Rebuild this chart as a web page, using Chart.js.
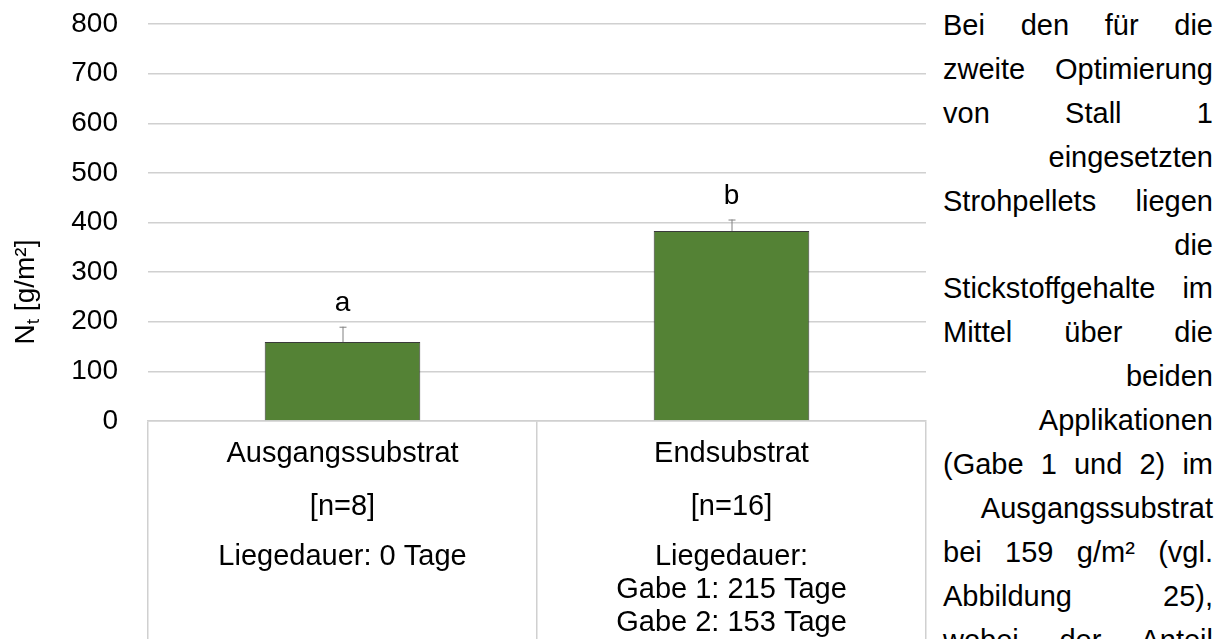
<!DOCTYPE html>
<html lang="de">
<head>
<meta charset="utf-8">
<script src="https://cdn.jsdelivr.net/npm/chart.js@4.4.0/dist/chart.umd.min.js"></script>
<style>
html, body { margin: 0; padding: 0; background: #fff; }
body { width: 1222px; height: 639px; overflow: hidden; position: relative; font-family: "Liberation Sans", Arial, sans-serif; }
#grafik { position: absolute; left: 0; top: 0; width: 935px; height: 639px; }
#text { position: absolute; left: 943px; top: 4px; width: 270px; font-size: 29px; line-height: 43.9px; color: #000; }
#text div { text-align: justify; text-align-last: justify; }
#text div.r { text-align: right; text-align-last: right; }
</style>
</head>
<body>
<div id="grafik"><canvas id="ntChart"></canvas></div>
<div id="text">
  <div>Bei den für die</div>
  <div>zweite Optimierung</div>
  <div>von Stall 1</div>
  <div class="r">eingesetzten</div>
  <div>Strohpellets liegen</div>
  <div class="r">die</div>
  <div>Stickstoffgehalte im</div>
  <div>Mittel über die</div>
  <div class="r">beiden</div>
  <div class="r">Applikationen</div>
  <div>(Gabe 1 und 2) im</div>
  <div class="r">Ausgangssubstrat</div>
  <div>bei 159 g/m² (vgl.</div>
  <div>Abbildung 25),</div>
  <div>wobei der Anteil</div>
</div>
<script>
// Stickstoffgehalt Nt in g/m², Mittelwert und Standardabweichung
const kategorien = ['Ausgangssubstrat', 'Endsubstrat'];
const stichprobe = ['[n=8]', '[n=16]'];
const liegedauer = [
    ['Liegedauer: 0 Tage'],
    ['Liegedauer:', 'Gabe 1: 215 Tage', 'Gabe 2: 153 Tage']
];
const mittelwerte = [159, 383];
const abweichung = [31, 23];
const buchstaben = ['a', 'b'];

const SCHRIFT = '"Liberation Sans", Arial, sans-serif';

// Fehlerbalken und Signifikanzbuchstaben über den Säulen
const fehlerbalken = {
    id: 'fehlerbalken',
    afterDatasetsDraw(chart) {
        const ctx = chart.ctx;
        const y = chart.scales.y;
        chart.getDatasetMeta(0).data.forEach((bar, i) => {
            const yOben = y.getPixelForValue(mittelwerte[i] + abweichung[i]);
            const yMitte = y.getPixelForValue(mittelwerte[i]);
            ctx.save();
            ctx.strokeStyle = '#808080';
            ctx.lineWidth = 1;
            ctx.beginPath();
            ctx.moveTo(bar.x + 0.5, yMitte);
            ctx.lineTo(bar.x + 0.5, yOben);
            ctx.moveTo(bar.x - 3, yOben + 0.5);
            ctx.lineTo(bar.x + 4, yOben + 0.5);
            ctx.stroke();
            ctx.fillStyle = '#000';
            ctx.font = '28px ' + SCHRIFT;
            ctx.textAlign = 'center';
            ctx.textBaseline = 'alphabetic';
            ctx.fillText(buchstaben[i], bar.x, yOben - 16);
            ctx.restore();
        });
    }
};

// Beschriftung der Kategorien unter der Achse
const kategorieText = {
    id: 'kategorieText',
    afterDraw(chart) {
        const ctx = chart.ctx;
        const x = chart.scales.x;
        const basis = chart.chartArea.bottom;
        ctx.save();
        ctx.fillStyle = '#000';
        ctx.font = '29px ' + SCHRIFT;
        ctx.textAlign = 'center';
        ctx.textBaseline = 'middle';
        kategorien.forEach((name, i) => {
            const px = x.getPixelForValue(i);
            ctx.fillText(name, px, basis + 33);
            ctx.fillText(stichprobe[i], px, basis + 86);
            liegedauer[i].forEach((zeile, k) => {
                ctx.fillText(zeile, px, basis + 136 + k * 33);
            });
        });
        ctx.restore();
    }
};

// Achsentitel mit tiefgestelltem t
const yTitel = {
    id: 'yTitel',
    afterDraw(chart) {
        const ctx = chart.ctx;
        ctx.save();
        ctx.translate(26, 292);
        ctx.rotate(-Math.PI / 2);
        ctx.fillStyle = '#000';
        ctx.textBaseline = 'middle';
        ctx.textAlign = 'left';
        const gross = '28px ' + SCHRIFT, klein = '19px ' + SCHRIFT;
        ctx.font = gross;
        const wN = ctx.measureText('N').width;
        const wRest = ctx.measureText(' [g/m²]').width;
        ctx.font = klein;
        const wT = ctx.measureText('t').width;
        let px = -(wN + wT + wRest) / 2;
        ctx.font = gross;
        ctx.fillText('N', px, 0);
        px += wN;
        ctx.font = klein;
        ctx.fillText('t', px, 8);
        px += wT;
        ctx.font = gross;
        ctx.fillText(' [g/m²]', px, 0);
        ctx.restore();
    }
};

new Chart(document.getElementById('ntChart'), {
    type: 'bar',
    data: {
        labels: kategorien,
        datasets: [{
            data: mittelwerte,
            backgroundColor: '#548235',
            borderColor: '#3a3a3a',
            borderWidth: 1,
            barPercentage: 0.4,
            categoryPercentage: 1
        }]
    },
    options: {
        responsive: true,
        maintainAspectRatio: false,
        animation: false,
        layout: { padding: { top: 24, right: 9, left: 0, bottom: 0 } },
        plugins: { legend: { display: false }, tooltip: { enabled: false } },
        scales: {
            x: {
                offset: true,
                grid: { offset: true, drawOnChartArea: false, drawTicks: true, tickLength: 218, color: '#d0d0d0', lineWidth: 1.5 },
                border: { color: '#d0d0d0', width: 1.5 },
                ticks: { display: false }
            },
            y: {
                min: 0,
                max: 800,
                ticks: { stepSize: 100, color: '#000', padding: 0, font: { size: 28, family: SCHRIFT } },
                // unsichtbare Teilstriche als Abstand zwischen Zahlen und Gitter
                grid: { color: '#d0d0d0', lineWidth: 1.5, drawTicks: true, tickLength: 30, tickColor: 'rgba(0,0,0,0)' },
                border: { display: false },
                afterFit(scale) { scale.width = 148; }
            }
        }
    },
    plugins: [fehlerbalken, kategorieText, yTitel]
});
</script>
</body>
</html>
